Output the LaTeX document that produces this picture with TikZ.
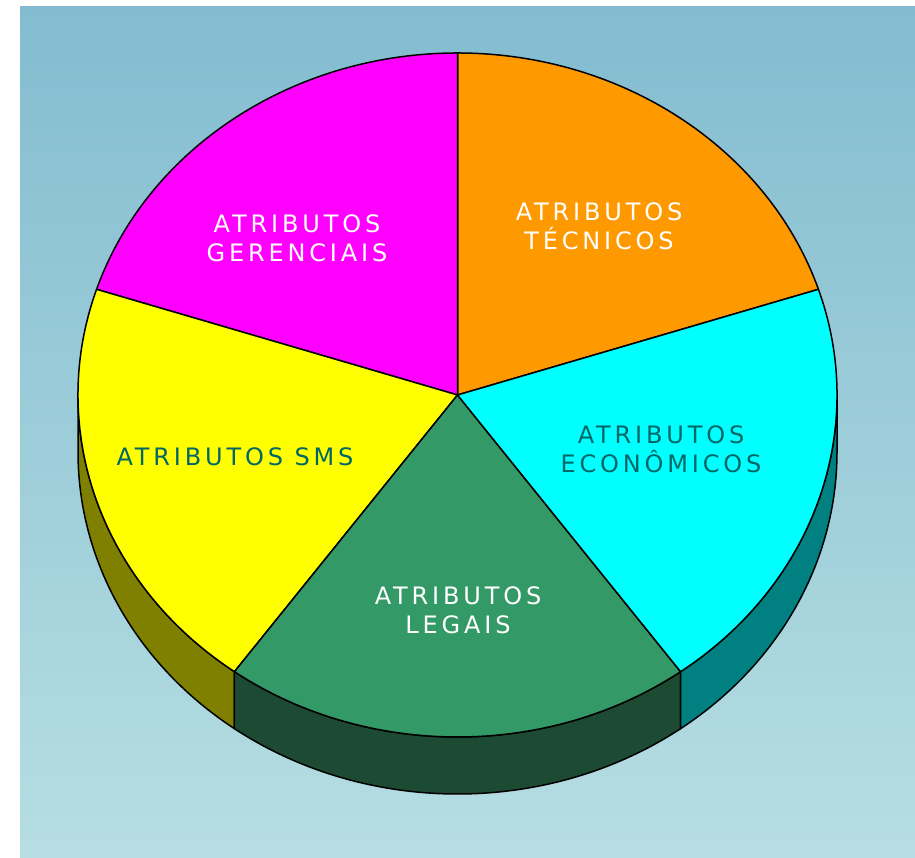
\documentclass[tikz,border=0pt]{standalone}
\usepackage{fontspec}
\newfontfamily\labelfont[LetterSpace=16]{DejaVu Sans}
\definecolor{bgtop}{HTML}{83BCD0}
\definecolor{bgbottom}{HTML}{B6DEE2}
\definecolor{piemagenta}{HTML}{FF00FF}
\definecolor{pieyellow}{HTML}{FFFF00}
\definecolor{piegreen}{HTML}{339966}
\definecolor{piecyan}{HTML}{00FFFF}
\definecolor{pieorange}{HTML}{FF9900}
\definecolor{sideolive}{HTML}{808000}
\definecolor{sidegreen}{HTML}{1C4A32}
\definecolor{sideteal}{HTML}{008080}
\definecolor{labelteal}{HTML}{006666}
\tikzset{
  slice/.style={draw=black, line width=1.5pt, line join=round},
  label/.style={align=center, font=\labelfont\fontsize{24}{29}\selectfont, inner sep=0pt}
}
\begin{document}
\begin{tikzpicture}[x=1pt, y=1pt]
    \useasboundingbox (0,0) rectangle (915,858);
    % Background
    \shade[top color=bgtop, bottom color=bgbottom] (20,0) rectangle (915,851);

    \begin{scope}[shift={(457.5,463)}]
    % Side walls
    \foreach \a/\b/\col in {180/234/sideolive, 234/306/sidegreen, 306/360/sideteal} {
        \filldraw[slice, fill=\col] (\a:379.5 and 342)
            arc[start angle=\a, end angle=\b, x radius=379.5, y radius=342]
            -- ++(0,-57)
            arc[start angle=\b, end angle=\a, x radius=379.5, y radius=342]
            -- cycle;
    }

    % Top slices
    \foreach \a/\b/\col in {18/90/pieorange, 90/162/piemagenta, 162/234/pieyellow,
                            234/306/piegreen, 306/378/piecyan} {
        \filldraw[slice, fill=\col] (0,0) -- (\a:379.5 and 342)
            arc[start angle=\a, end angle=\b, x radius=379.5, y radius=342] -- cycle;
    }
    \end{scope}

    % Labels
    \node[label, text=white] (gerenciais) at (297,620) {ATRIBUTOS\\GERENCIAIS};
    \node[label, text=white] (tecnicos) at (599,632) {ATRIBUTOS\\TÉCNICOS};
    \node[label, text=labelteal] (sms) at (235,401) {ATRIBUTOS SMS};
    \node[label, text=labelteal] (economicos) at (661,409) {ATRIBUTOS\\ECONÔMICOS};
    \node[label, text=white] (legais) at (458,248) {ATRIBUTOS\\LEGAIS};
\end{tikzpicture}
\end{document}
